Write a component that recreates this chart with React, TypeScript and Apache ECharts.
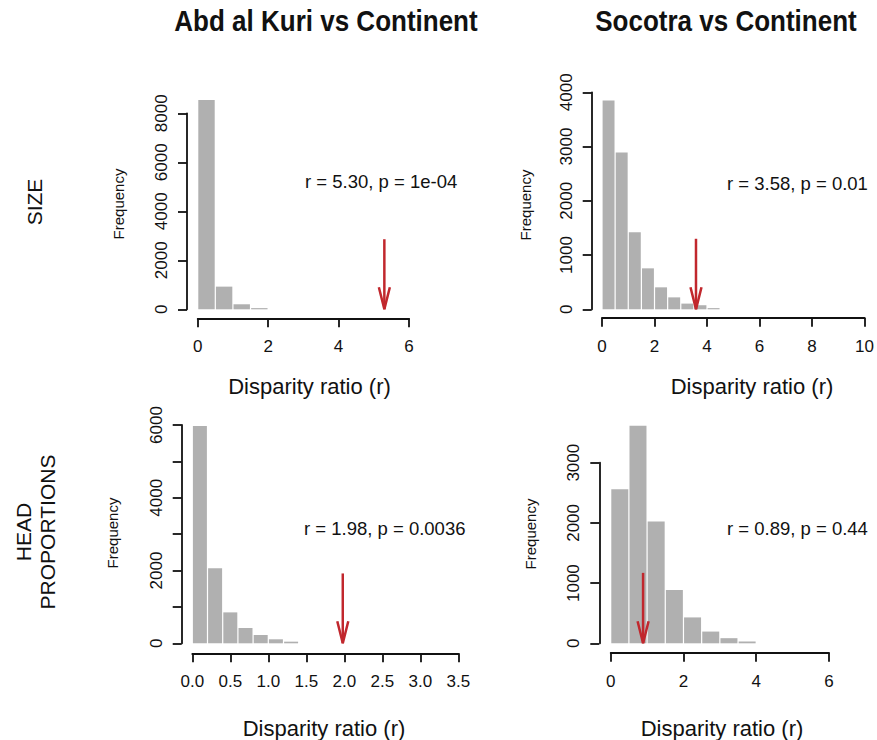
import React, { useEffect, useRef } from "react";
import * as echarts from "echarts";

// ---------- data ----------
const colTitles = ["Abd al Kuri vs Continent", "Socotra vs Continent"];
const rowTitles = [["SIZE"], ["HEAD", "PROPORTIONS"]];
const xAxisTitle = "Disparity ratio (r)";
const yAxisTitle = "Frequency";

// histogram bin edges and counts
const sizeAbdEdges = [0, 0.5, 1, 1.5, 2];
const sizeAbdCounts = [8545, 925, 205, 45];
const sizeSocEdges = [0, 0.5, 1, 1.5, 2, 2.5, 3, 3.5, 4, 4.5];
const sizeSocCounts = [3850, 2890, 1420, 755, 405, 220, 105, 75, 18];
const headAbdEdges = [0, 0.2, 0.4, 0.6, 0.8, 1.0, 1.2, 1.4];
const headAbdCounts = [5970, 2060, 850, 420, 230, 110, 45];
const headSocEdges = [0, 0.5, 1, 1.5, 2, 2.5, 3, 3.5, 4];
const headSocCounts = [2560, 3615, 2025, 885, 430, 195, 85, 30];

// observed ratios (arrows) and the height the arrows start at
const observedR = [5.3, 3.58, 1.98, 0.89];
const arrowTops = [2860, 1300, 1920, 1170];
const statLabels = [
  "r = 5.30, p = 1e-04",
  "r = 3.58, p = 0.01",
  "r = 1.98, p = 0.0036",
  "r = 0.89, p = 0.44",
];

// axis ticks
const xTicksSizeAbd = [0, 2, 4, 6];
const xTicksSizeSoc = [0, 2, 4, 6, 8, 10];
const xTicksHeadAbd = [0, 0.5, 1, 1.5, 2, 2.5, 3, 3.5];
const xTicksHeadSoc = [0, 2, 4, 6];
const yTicksSizeAbd = [0, 2000, 4000, 6000, 8000];
const yTicksSizeSoc = [0, 1000, 2000, 3000, 4000];
const yTicksHeadAbd = [0, 1000, 2000, 3000, 4000, 5000, 6000];
const yLabelsHeadAbd = [0, 2000, 4000, 6000];
const yTicksHeadSoc = [0, 1000, 2000, 3000];

// ---------- layout / style ----------
const FONT = "'Liberation Sans', Arial, Helvetica, sans-serif";
const BAR = "#B0B0B0";
const RED = "#C1272D";
const INK = "#111111";

const panels = [
  { edges: sizeAbdEdges, counts: sizeAbdCounts, xt: xTicksSizeAbd, yt: yTicksSizeAbd, yl: yTicksSizeAbd, xDec: 0,
    left: 197.7, top: 113.3, width: 211.3, height: 196, yOff: 10.7, xOff: 9 },
  { edges: sizeSocEdges, counts: sizeSocCounts, xt: xTicksSizeSoc, yt: yTicksSizeSoc, yl: yTicksSizeSoc, xDec: 0,
    left: 602, top: 92.3, width: 264, height: 217, yOff: 10.3, xOff: 8.4 },
  { edges: headAbdEdges, counts: headAbdCounts, xt: xTicksHeadAbd, yt: yTicksHeadAbd, yl: yLabelsHeadAbd, xDec: 1,
    left: 192.3, top: 425, width: 266, height: 218.3, yOff: 10.6, xOff: 10 },
  { edges: headSocEdges, counts: headSocCounts, xt: xTicksHeadSoc, yt: yTicksHeadSoc, yl: yTicksHeadSoc, xDec: 0,
    left: 610.7, top: 462.7, width: 218.3, height: 180.6, yOff: 11.4, xOff: 9.4 },
];

const statPos = [
  [305, 181], [727, 183], [304, 528], [727, 528],
];
const freqPos = [
  [118, 204], [525, 205], [112, 533], [530, 534],
];
const xNamePos = [
  [309.5, 386], [752, 386], [324, 728], [722, 728],
];

function buildOption() {
  const grid: any[] = [];
  const xAxis: any[] = [];
  const yAxis: any[] = [];
  const series: any[] = [];
  const axisLine = { show: true, lineStyle: { color: INK, width: 1.8 } };
  panels.forEach((p, i) => {
    grid.push({ left: p.left, top: p.top, width: p.width, height: p.height, containLabel: false });
    xAxis.push({
      type: "value", gridIndex: i,
      min: p.xt[0], max: p.xt[p.xt.length - 1], interval: p.xt[1] - p.xt[0],
      offset: p.xOff,
      axisLine: { ...axisLine, onZero: false },
      axisTick: { show: true, length: 9, lineStyle: { color: INK, width: 1.8 } },
      axisLabel: {
        show: true, margin: 20, fontSize: 17, fontFamily: FONT, color: INK,
        formatter: (v: number) => v.toFixed(p.xDec),
      },
      splitLine: { show: false },
    });
    yAxis.push({
      type: "value", gridIndex: i,
      min: p.yt[0], max: p.yt[p.yt.length - 1], interval: p.yt[1] - p.yt[0],
      offset: p.yOff,
      axisLine: { ...axisLine, onZero: false },
      axisTick: { show: true, length: 9, lineStyle: { color: INK, width: 1.8 } },
      axisLabel: {
        show: true, margin: 17, fontSize: 17, fontFamily: FONT, color: INK, rotate: 90,
        formatter: (v: number) => (p.yl.indexOf(v) >= 0 ? String(v) : ""),
      },
      splitLine: { show: false },
    });
    series.push({
      type: "custom", xAxisIndex: i, yAxisIndex: i, clip: false,
      encode: { x: [0, 1], y: 2 },
      data: p.counts.map((c, k) => [p.edges[k], p.edges[k + 1], c]),
      renderItem: (_params: any, api: any) => {
        const a = api.coord([api.value(0), api.value(2)]);
        const b = api.coord([api.value(1), 0]);
        const h = Math.max(b[1] - a[1], 1.2);
        return {
          type: "rect",
          shape: { x: a[0] + 0.6, y: b[1] - h, width: b[0] - a[0] - 1.2, height: h },
          style: { fill: BAR },
        };
      },
    });
    series.push({
      type: "custom", xAxisIndex: i, yAxisIndex: i, clip: false, z: 5,
      encode: { x: 0, y: 1 },
      data: [[observedR[i], arrowTops[i]]],
      renderItem: (_params: any, api: any) => {
        const t = api.coord([api.value(0), api.value(1)]);
        const b = api.coord([api.value(0), 0]);
        return {
          type: "group",
          children: [
            { type: "line", shape: { x1: t[0], y1: t[1], x2: b[0], y2: b[1] },
              style: { stroke: RED, lineWidth: 2.5 } },
            { type: "polyline",
              shape: { points: [[b[0] - 5.5, b[1] - 22], [b[0], b[1]], [b[0] + 5.5, b[1] - 22]] },
              style: { stroke: RED, lineWidth: 2.5, fill: "none" } },
          ],
        };
      },
    });
  });

  const graphic: any[] = [];
  const txt = (x: number, y: number, text: string, fontSize: number, extra: any = {}, styleExtra: any = {}) => ({
    type: "text", x, y, ...extra,
    style: { text, fontSize, fontFamily: FONT, fill: INK, align: "center", verticalAlign: "middle", ...styleExtra },
  });
  graphic.push(txt(326, 21, colTitles[0], 26, { scaleY: 1.1 }, { fontWeight: "bold" }));
  graphic.push(txt(726, 21, colTitles[1], 26, { scaleY: 1.1 }, { fontWeight: "bold" }));
  graphic.push(txt(34, 202, rowTitles[0][0], 21, { rotation: Math.PI / 2 }));
  graphic.push(txt(23, 532, rowTitles[1][0], 21, { rotation: Math.PI / 2 }));
  graphic.push(txt(47, 532, rowTitles[1][1], 21, { rotation: Math.PI / 2 }));
  for (let i = 0; i < 4; i++) {
    graphic.push(txt(freqPos[i][0], freqPos[i][1], yAxisTitle, 15, { rotation: Math.PI / 2 }));
    graphic.push(txt(xNamePos[i][0], xNamePos[i][1], xAxisTitle, 22));
    graphic.push(txt(statPos[i][0], statPos[i][1], statLabels[i], 18.5, {}, { align: "left" }));
  }

  return {
    animation: false,
    backgroundColor: "#ffffff",
    grid, xAxis, yAxis, series, graphic,
  };
}

export default function App() {
  const ref = useRef<HTMLDivElement>(null);
  useEffect(() => {
    if (!ref.current) return;
    const chart = echarts.init(ref.current, undefined, { renderer: "svg" });
    chart.setOption(buildOption() as any);
    return () => chart.dispose();
  }, []);
  return (
    <div
      ref={ref}
      style={{ position: "fixed", left: 0, top: 0, width: 877, height: 740, background: "#fff" }}
    />
  );
}
